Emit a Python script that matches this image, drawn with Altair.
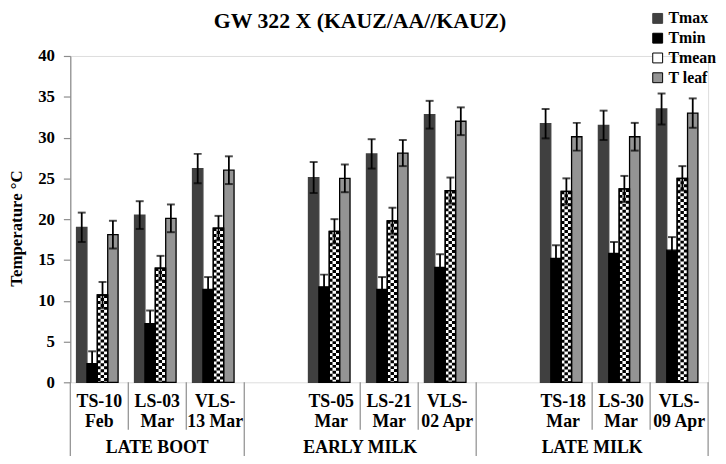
import altair as alt
import pandas as pd

# ---- data ----
chart_title = "GW 322 X (KAUZ/AA//KAUZ)"
categories = ["TS-10 Feb", "LS-03 Mar", "VLS-13 Mar",
              "TS-05 Mar", "LS-21 Mar", "VLS-02 Apr",
              "TS-18 Mar", "LS-30 Mar", "VLS-09 Apr"]
cat_labels = ["TS-10\nFeb", "LS-03\nMar", "VLS-\n13 Mar",
              "TS-05\nMar", "LS-21\nMar", "VLS-\n02 Apr",
              "TS-18\nMar", "LS-30\nMar", "VLS-\n09 Apr"]
slots = ["TS-10 Feb", "LS-03 Mar", "VLS-13 Mar", "gap1",
         "TS-05 Mar", "LS-21 Mar", "VLS-02 Apr", "gap2",
         "TS-18 Mar", "LS-30 Mar", "VLS-09 Apr"]
stages = ["LATE BOOT", "EARLY MILK", "LATE MILK"]
stage_centre_slot = ["LS-03 Mar", "LS-21 Mar", "LS-30 Mar"]
series = ["Tmax", "Tmin", "Tmean", "T leaf"]

tmax = [19.0, 20.5, 26.2, 25.1, 28.0, 32.8, 31.7, 31.5, 33.5]
tmin = [2.3, 7.2, 11.4, 11.7, 11.4, 14.1, 15.2, 15.8, 16.2]
tmean = [10.7, 14.0, 18.9, 18.5, 19.8, 23.5, 23.4, 23.7, 25.0]
tleaf = [18.1, 20.1, 26.0, 25.0, 28.1, 32.0, 30.1, 30.1, 33.0]
tmax_err = [1.8, 1.7, 1.8, 1.9, 1.8, 1.7, 1.8, 1.8, 1.9]
tmin_err = [1.5, 1.6, 1.5, 1.5, 1.5, 1.6, 1.6, 1.4, 1.6]
tmean_err = [1.6, 1.5, 1.5, 1.5, 1.6, 1.6, 1.6, 1.6, 1.5]
tleaf_err = [1.7, 1.7, 1.7, 1.7, 1.6, 1.7, 1.7, 1.7, 1.8]

fills = ["#404040", "#000000", "#ffffff", "#949494"]
strokes = ["#404040", "#000000", "#000000", "#000000"]

# ---- tables built from the lists ----
rows = []
for s, vals, errs in zip(series, [tmax, tmin, tmean, tleaf],
                         [tmax_err, tmin_err, tmean_err, tleaf_err]):
    for c, v, e in zip(categories, vals, errs):
        rows.append({"slot": c, "series": s, "value": v, "lo": v - e, "hi": v + e})
df = pd.DataFrame(rows)

# sub-columns used to draw the checker texture of the Tmean bars
sub_domain = ["padL"] + [f"{s}_{k}" for s in series for k in range(3)] + ["padR0", "padR1", "padR2"]
chk = df[df["series"] == "Tmean"]
chk_a = pd.concat([chk.assign(sub="Tmean_0"), chk.assign(sub="Tmean_2")])
chk_b = chk.assign(sub="Tmean_1")

lab_df = pd.DataFrame({"slot": categories, "label": cat_labels})
minor_df = pd.DataFrame({"slot": [c for c in categories if not c.startswith("TS")]})
major_df = pd.DataFrame({"slot": ["TS-10 Feb", "gap1", "gap2"]})
end_df = pd.DataFrame({"slot": [slots[-1]]})
stage_df = pd.DataFrame({"slot": stage_centre_slot, "stage": stages})
title_df = pd.DataFrame({"t": [chart_title]})

FONT = "Liberation Serif"
x_scale = alt.Scale(domain=slots, paddingInner=0, paddingOuter=0)
y_scale = alt.Scale(domain=[0, 40], nice=False)
xo_scale = alt.Scale(domain=series, paddingInner=0, paddingOuter=0.79, align=0.38)
xo_sub_scale = alt.Scale(domain=sub_domain, paddingInner=0, paddingOuter=0.375, align=1)

X = alt.X("slot:N", scale=x_scale, axis=None)
XO = alt.XOffset("series:N", scale=xo_scale)

bars = alt.Chart(df).mark_bar(strokeWidth=1.3).encode(
    x=alt.X("slot:N", scale=x_scale,
            axis=alt.Axis(labels=False, ticks=False, title=None, grid=False,
                          domainColor="#8c8c8c", domainWidth=1.2)),
    xOffset=XO,
    y=alt.Y("value:Q", scale=y_scale,
            axis=alt.Axis(values=list(range(0, 41, 5)), grid=False,
                          labelFont=FONT, labelFontWeight="bold", labelFontSize=17,
                          labelColor="#000000", labelPadding=9,
                          tickSize=7, tickColor="#8c8c8c", domainColor="#8c8c8c",
                          domainWidth=1.2, tickWidth=1.2,
                          title="Temperature °C", titleFont=FONT, titleFontSize=17,
                          titleFontWeight="bold", titleColor="#000000",
                          titleX=-49, titleY=174, titleBaseline="alphabetic",
                          titleAngle=270)),
    color=alt.Color("series:N", scale=alt.Scale(domain=series, range=fills),
                    legend=alt.Legend(orient="none", legendX=586, legendY=-46,
                                      title=None, symbolType="square", symbolSize=100,
                                      symbolStrokeColor="#000000", symbolStrokeWidth=1,
                                      labelFont=FONT, labelFontWeight="bold",
                                      labelFontSize=16, labelColor="#000000",
                                      labelOffset=3, rowPadding=4, padding=0)),
    stroke=alt.Stroke("series:N", scale=alt.Scale(domain=series, range=strokes),
                      legend=None),
)

XS = alt.XOffset("sub:N", scale=xo_sub_scale)
check_a = alt.Chart(chk_a).mark_rule(color="#000000", strokeWidth=3.5,
                                     strokeDash=[3, 3], strokeDashOffset=0).encode(
    x=X, xOffset=XS, y=alt.Y("value:Q", scale=y_scale), y2=alt.datum(0))
check_b = alt.Chart(chk_b).mark_rule(color="#000000", strokeWidth=3.5,
                                     strokeDash=[3, 3], strokeDashOffset=3).encode(
    x=X, xOffset=XS, y=alt.Y("value:Q", scale=y_scale), y2=alt.datum(0))
outline = alt.Chart(chk).mark_bar(fillOpacity=0, stroke="#000000", strokeWidth=1.3).encode(
    x=X, xOffset=XO, y=alt.Y("value:Q", scale=y_scale))

err = alt.Chart(df).mark_rule(color="#000000", strokeWidth=1.8).encode(
    x=X, xOffset=XO, y=alt.Y("lo:Q", scale=y_scale), y2="hi:Q")
cap_hi = alt.Chart(df).mark_tick(color="#000000", thickness=2, size=8).encode(
    x=X, xOffset=XO, y=alt.Y("hi:Q", scale=y_scale))
cap_lo = alt.Chart(df).mark_tick(color="#000000", thickness=2, size=8).encode(
    x=X, xOffset=XO, y=alt.Y("lo:Q", scale=y_scale))

minor_lines = alt.Chart(minor_df).mark_rule(color="#8c8c8c", strokeWidth=1.2).encode(
    x=alt.X("slot:N", scale=x_scale, axis=None, bandPosition=0),
    y=alt.value(330), y2=alt.value(378))
major_lines = alt.Chart(major_df).mark_rule(color="#8c8c8c", strokeWidth=1.2).encode(
    x=alt.X("slot:N", scale=x_scale, axis=None, bandPosition=0),
    y=alt.value(330), y2=alt.value(420))
end_line = alt.Chart(end_df).mark_rule(color="#8c8c8c", strokeWidth=1.2).encode(
    x=alt.X("slot:N", scale=x_scale, axis=None, bandPosition=1),
    y=alt.value(330), y2=alt.value(420))

cat_text = alt.Chart(lab_df).mark_text(font=FONT, fontWeight="bold", fontSize=18,
                                       baseline="top", lineBreak="\n", lineHeight=20,
                                       color="#000000").encode(
    x=X, y=alt.value(341), text="label:N")
stage_first = alt.Chart(stage_df.iloc[:1]).mark_text(
    font=FONT, fontWeight="bold", fontSize=18, baseline="middle", color="#000000").encode(
    x=alt.X("slot:N", scale=x_scale, axis=None, bandPosition=0.5),
    y=alt.value(396), text="stage:N")
stage_rest = alt.Chart(stage_df.iloc[1:]).mark_text(
    font=FONT, fontWeight="bold", fontSize=18, baseline="middle", color="#000000").encode(
    x=alt.X("slot:N", scale=x_scale, axis=None, bandPosition=0),
    y=alt.value(396), text="stage:N")

title_text = alt.Chart(title_df).mark_text(
    font=FONT, fontWeight="bold", fontSize=22, baseline="top",
    align="center", color="#000000").encode(
    x=alt.value(293), y=alt.value(-45), text="t:N")

chart = alt.layer(
    bars, check_a, check_b, outline, err, cap_hi, cap_lo,
    minor_lines, major_lines, end_line, cat_text, stage_first, stage_rest, title_text,
).resolve_scale(xOffset="independent").properties(
    width=645, height=330,
    autosize=alt.AutoSizeParams(type="none"),
    padding={"left": 63, "top": 46, "right": 10, "bottom": 72},
).configure_view(stroke=None).configure(background="#ffffff")

chart.save("out.html", embed_options={"renderer": "svg", "actions": False})
